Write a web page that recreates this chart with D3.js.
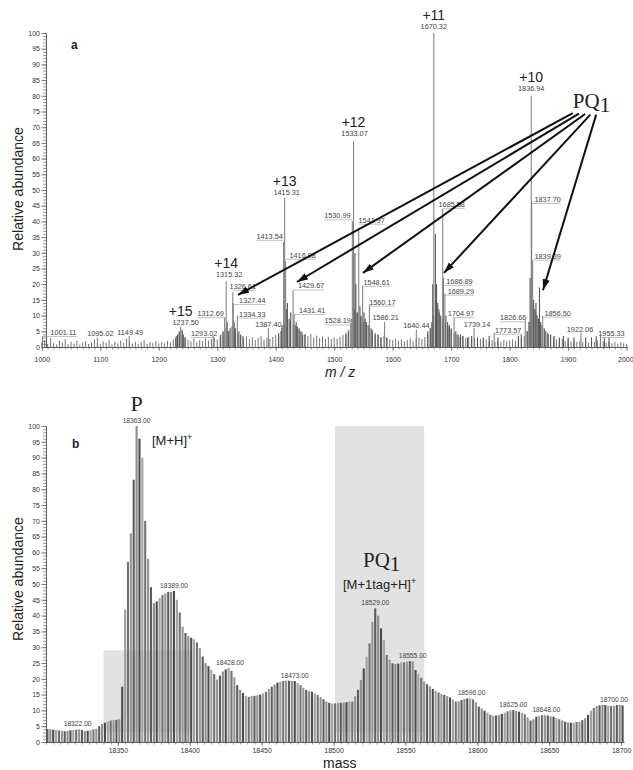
<!DOCTYPE html>
<html>
<head>
<meta charset="utf-8">
<script src="https://cdn.jsdelivr.net/npm/d3@7"></script>
<style>
body { margin: 0; background: #fff; }
text { font-family: "Liberation Sans", Arial, sans-serif; }
</style>
</head>
<body>
<svg id="chart" width="633" height="770"></svg>
<script>
// ---- panel a : m/z spectrum ----
// labelled peaks (m/z, relative abundance)
var peakMz = [1001.11, 1095.02, 1149.49, 1237.50, 1293.02, 1312.69, 1315.32, 1326.61, 1327.44, 1334.33,
              1387.40, 1413.54, 1415.31, 1416.98, 1429.67, 1431.41, 1528.19, 1530.99, 1533.07, 1541.97,
              1548.61, 1560.17, 1586.21, 1640.44, 1670.32, 1685.58, 1686.89, 1689.29, 1704.97, 1739.14,
              1773.57, 1826.66, 1836.94, 1837.70, 1839.39, 1856.50, 1922.06, 1955.33];
var peakInt = [3.5, 3, 3.5, 6.5, 3.5, 9.5, 21, 17.5, 14, 10,
               6, 33.5, 47.5, 27.5, 18, 10.5, 7.5, 40, 65.5, 38,
               19.5, 13.5, 8, 5.5, 100, 44, 22, 17, 9.5, 6,
               4.5, 8.5, 80, 46.5, 27.5, 10, 4.5, 3.5];

// unlabelled peaks inside the charge clusters
var extraMz = [1229, 1232, 1235, 1240, 1242, 1245,
               1306, 1310, 1317, 1319, 1322, 1329, 1331, 1337, 1340, 1344,
               1405, 1409, 1411, 1418, 1420, 1423, 1425.6, 1433, 1435, 1437, 1440, 1443, 1446, 1450,
               1520, 1524, 1535.5, 1537, 1539, 1544, 1546, 1551, 1553, 1555, 1558, 1563, 1565, 1570, 1575, 1580, 1590,
               1660, 1664, 1667, 1668.5, 1673, 1675, 1677, 1679, 1682, 1691, 1694, 1697, 1700, 1708, 1712, 1716, 1720, 1728, 1735, 1745, 1755, 1765, 1780,
               1815, 1820, 1830, 1833, 1835, 1841, 1843, 1845, 1847, 1849, 1851, 1853, 1859, 1862, 1866, 1870, 1876, 1885, 1892, 1900, 1910, 1930, 1940, 1948, 1962, 1970];
var extraInt = [3, 4, 5, 5.5, 4, 3,
                4, 5, 8, 5, 6, 8, 6, 5, 4, 3.5,
                4, 5, 7, 12, 14, 9, 11, 7, 8, 6.5, 6, 5, 4, 4,
                4, 5, 30, 20, 11, 13, 10, 11, 9, 8, 7, 6, 5, 4, 4, 3, 3,
                5, 6, 8, 20, 36, 20, 14, 12, 10, 10, 8, 7, 6, 5, 4, 4, 3.5, 3, 3.5, 3, 3, 3.5, 3,
                3.5, 4, 5, 8, 22, 15, 12, 14, 10, 9, 19, 8, 6, 5, 4, 4, 3.5, 3, 3.5, 3, 3, 3, 3, 3.5, 3, 3];

// baseline noise, one reading every 5 m/z from 1000 to 2000
var noiseStart = 1000, noiseStep = 5;
var noiseInt = [1.5, 2.2, 1.0, 2.8, 1.2, 0.8, 2.0, 1.4, 2.5, 0.9,
                1.7, 1.1, 2.1, 0.7, 1.5, 1.9, 1.0, 1.6, 2.4, 1.2,
                0.9, 1.8, 1.3, 2.2, 0.8, 1.6, 1.2, 2.0, 1.4, 2.6,
                1.9, 1.1, 1.7, 0.9, 1.5, 2.1, 1.0, 1.6, 1.3, 1.9,
                1.1, 1.6, 1.2, 2.0, 1.5, 2.4, 3.5, 4.5, 5.0, 3.2,
                2.3, 1.8, 2.6, 1.5, 2.2, 1.9, 2.8, 2.0, 2.5, 3.0,
                2.4, 3.3, 4.8, 6.0, 5.2, 6.5, 5.0, 4.2, 3.6, 2.8,
                3.4, 2.5, 3.1, 2.2, 2.9, 3.5, 2.4, 3.0, 2.6, 3.2,
                3.8, 4.5, 6.0, 7.5, 9.0, 8.0, 7.5, 6.5, 5.5, 4.8,
                4.0, 3.5, 4.2, 3.0, 3.6, 2.8, 3.4, 2.6, 3.2, 2.5,
                3.0, 2.7, 3.3, 3.8, 4.5, 5.5, 9.0, 12, 11, 9.5,
                8.0, 7.0, 6.0, 5.5, 4.5, 3.8, 3.2, 3.6, 2.8, 2.4,
                2.2, 2.6, 2.0, 2.4, 1.8, 2.2, 2.8, 2.0, 2.6, 3.0,
                2.5, 3.2, 4.0, 6.0, 10, 13, 11, 9.0, 8.0, 6.5,
                5.5, 4.5, 4.0, 3.2, 3.6, 2.8, 3.2, 2.5, 2.9, 2.2,
                2.6, 2.0, 2.4, 1.8, 2.2, 1.6, 2.0, 1.7, 2.3, 1.9,
                2.1, 2.4, 2.0, 2.6, 3.0, 3.6, 5.0, 8.0, 12, 11,
                9.0, 7.0, 5.5, 4.5, 3.8, 3.0, 2.5, 2.2, 2.6, 1.9,
                2.3, 1.7, 2.1, 1.6, 2.0, 1.5, 1.9, 1.4, 2.0, 1.6,
                2.2, 1.5, 1.8, 1.3, 1.7, 1.2, 1.6, 1.1, 1.5, 1.2,
                1.0];

var charges = ["+15", "+14", "+13", "+12", "+11", "+10"];
var chargeMz = [1237.50, 1315.32, 1415.31, 1533.07, 1670.32, 1836.94];

// arrows PQ1 -> tagged peaks : [from m/z, from abundance, to m/z, to abundance]
var arrows = [[1908, 74.5, 1335.5, 16.6],
              [1918.5, 74.3, 1436.3, 20.7],
              [1929, 74.2, 1549.2, 23.6],
              [1938, 74, 1687.7, 23.6],
              [1948, 74, 1857, 18.1]];

// ---- panel b : deconvoluted mass spectrum ----
// one reading every 2 Da from 18301 to 18701
var massStart = 18301, massStep = 2;
var massInt = [4.1, 4.0, 3.9, 3.8, 3.7, 3.6, 3.4, 3.5, 3.7, 3.8,
               3.9, 4.0, 3.8, 3.5, 3.6, 3.8, 4.0, 4.2, 5.0, 5.7,
               6.1, 6.5, 6.8, 6.9, 7.0, 7.2, 17.5, 42, 57, 66,
               83, 100, 96, 90, 70, 58, 49, 44, 44.5, 45.5,
               46.5, 47, 47.5, 47.5, 47.8, 45, 41, 36.5, 34.5, 33.5,
               33, 32.5, 31.5, 29.7, 27, 25, 24, 22.8, 21.5, 19.8,
               21, 22.3, 23, 23.4, 22.5, 20.5, 18, 16.5, 15.5, 14.6,
               14.3, 14.5, 14.6, 14.8, 15, 15.4, 15.9, 16.8, 17.5, 18.2,
               18.8, 19.1, 19.3, 19.4, 19.4, 19.3, 19.3, 18.7, 18, 17.2,
               16.5, 16.1, 15.9, 15.4, 14.9, 14.2, 13.5, 12.8, 12.4, 12.2,
               12.2, 12.3, 12.4, 12.5, 12.6, 12.8, 12.8, 14.5, 16.5, 19.6,
               23.3, 27, 31.2, 38, 42.3, 40, 36, 32.3, 27.5, 26,
               24.9, 24.7, 24.8, 25.2, 25.2, 25.4, 25.6, 25.5, 22.8, 21.5,
               20.3, 19.2, 18.3, 17.6, 16.8, 16.2, 15.7, 15.2, 14.9, 14.5,
               14.1, 13.4, 12.8, 12.9, 13.3, 13.6, 13.8, 13.8, 13.5, 12.6,
               11.2, 10.6, 9.9, 9.3, 8.6, 8.3, 8.4, 8.5, 8.9, 9.3,
               9.7, 10.0, 10.1, 9.8, 9.6, 9.2, 8.8, 7.8, 6.8, 7.2,
               8.0, 8.3, 8.5, 8.5, 8.4, 8.1, 8.0, 7.6, 7.2, 6.8,
               6.4, 6.2, 6.1, 6.1, 6.3, 6.4, 6.9, 7.5, 8.6, 9.9,
               10.8, 11.4, 11.6, 11.7, 11.7, 11.5, 11.4, 11.5, 11.7, 11.7,
               11.6];
var massLabels = [18322, 18363, 18389, 18428, 18473, 18529, 18555, 18596, 18625, 18648, 18700];
var massLabelInt = [4.0, 100, 47.8, 23.4, 19.4, 42.3, 25.5, 13.8, 10.1, 8.5, 11.7];
// shaded windows : [from mass, to mass, low, high]
var boxes = [[18340, 18401, 3, 29], [18501, 18563, 3, 100]];

// ---- layout ----
var labelDx = [21, 3, 1, 5, -9, -14, 3, 10, 19, 15,
               0, -14, 2, 17, 18, 18, -13, -15, 1, 13,
               14, 13, 1, 0, 0, 9, 16, 16, 7, 3,
               14, -12, 0, 16, 15, 15, -1, 11];
var labelDy = [-1, -2, -1, -2, 0, -1, -4, -3, 0, 1,
               -1, -3, -3, -3, -2, -1, 0, -3, -5, -5,
               -1, 0, -2, -2, -4, -2, 6, 0, -1, -1,
               0, 0, -5, 1, -2, 0, -1, 0];
var barShades = ["#5c5c5c", "#8e8e8e", "#4c4c4c", "#a2a2a2", "#727272", "#959595"];

var svg = d3.select("#chart");
var f2 = d3.format(".2f");

var xa = d3.scaleLinear().domain([1000, 2000]).range([41.8, 626.6]);
var ya = d3.scaleLinear().domain([0, 100]).range([347, 33]);
var xb = d3.scaleLinear().domain([18300, 18702]).range([46, 624]);
var yb = d3.scaleLinear().domain([0, 100]).range([742, 426]);

function styleAxis(g) {
  g.attr("font-family", "Liberation Sans, Arial, sans-serif").attr("font-size", 7);
  g.selectAll("path").attr("stroke", "#555").attr("stroke-width", 0.8);
  g.selectAll("line").attr("stroke", "#555").attr("stroke-width", 0.6);
  g.selectAll("text").attr("fill", "#333");
}
function minorAxis(g) {
  styleAxis(g);
  g.selectAll("text").remove();
}

function drawYAxis(y) {
  svg.append("g").attr("transform", "translate(46,0)")
     .call(d3.axisLeft(y).tickValues(d3.range(0, 101, 1)).tickSize(3).tickSizeOuter(0))
     .call(minorAxis);
  svg.append("g").attr("transform", "translate(46,0)")
     .call(d3.axisLeft(y).tickValues(d3.range(0, 101, 5)).tickSize(5).tickSizeOuter(0).tickPadding(1))
     .call(styleAxis);
}

// ================= panel a =================
noiseInt.forEach(function(v, i) {
  var m = noiseStart + i * noiseStep;
  svg.append("line").attr("x1", xa(m)).attr("x2", xa(m)).attr("y1", ya(0)).attr("y2", ya(v))
     .style("stroke", "#666").style("stroke-width", 0.9);
});
extraMz.forEach(function(m, i) {
  svg.append("line").attr("x1", xa(m)).attr("x2", xa(m)).attr("y1", ya(0)).attr("y2", ya(extraInt[i]))
     .style("stroke", "#555").style("stroke-width", 1.1);
});
peakMz.forEach(function(m, i) {
  svg.append("line").attr("x1", xa(m)).attr("x2", xa(m)).attr("y1", ya(0)).attr("y2", ya(peakInt[i]))
     .style("stroke", "#7a7a7a").style("stroke-width", 1);
});

// peak labels with leader lines
var labelBase = [];
peakMz.forEach(function(m, i) {
  var px = xa(m), cx = px + labelDx[i], by = ya(peakInt[i]) + labelDy[i];
  labelBase.push(by);
  if (Math.abs(labelDx[i]) > 6) {
    var x1 = labelDx[i] > 0 ? px : cx - 13;
    var x2 = labelDx[i] > 0 ? cx + 13 : px;
    svg.append("line").attr("x1", x1).attr("x2", x2).attr("y1", by + 1.5).attr("y2", by + 1.5)
       .style("stroke", "#999").style("stroke-width", 0.6);
  }
  svg.append("text").attr("x", cx).attr("y", by).text(f2(m))
     .style("font-size", "7.3px").style("fill", "#444").attr("text-anchor", "middle");
});

charges.forEach(function(c, i) {
  var k = peakMz.indexOf(chargeMz[i]);
  svg.append("text").attr("x", xa(chargeMz[i])).attr("y", labelBase[k] - 9).text(c)
     .style("font-size", "14px").style("fill", "#222").attr("text-anchor", "middle");
});

drawYAxis(ya);
svg.append("g").attr("transform", "translate(0," + ya(0) + ")")
   .call(d3.axisBottom(xa).tickValues(d3.range(1000, 2001, 10)).tickSize(2.5).tickSizeOuter(0))
   .call(minorAxis);
svg.append("g").attr("transform", "translate(0," + ya(0) + ")")
   .call(d3.axisBottom(xa).tickValues(d3.range(1000, 2001, 100)).tickSize(4).tickSizeOuter(0).tickPadding(6).tickFormat(d3.format("d")))
   .call(styleAxis)
   .selectAll("text").filter(function(d) { return d === 2000; }).attr("text-anchor", "end").attr("dx", 6.5);

// arrows
svg.append("defs").append("marker").attr("id", "head")
   .attr("markerUnits", "userSpaceOnUse").attr("markerWidth", 12).attr("markerHeight", 8)
   .attr("refX", 11).attr("refY", 3.5).attr("orient", "auto")
   .append("path").attr("d", "M0,0 L11,3.5 L0,7 Z").style("fill", "#111");
arrows.forEach(function(a) {
  svg.append("line").attr("x1", xa(a[0])).attr("y1", ya(a[1])).attr("x2", xa(a[2])).attr("y2", ya(a[3]))
     .style("stroke", "#111").style("stroke-width", 2).attr("marker-end", "url(#head)");
});

var pq = svg.append("text").attr("x", xa(1908)).attr("y", ya(76.1))
   .style("font-family", "Liberation Serif, Times New Roman, serif").style("font-size", "21px").style("fill", "#222");
pq.append("tspan").text("PQ");
pq.append("tspan").attr("dy", 4).text("1");

svg.append("text").attr("x", 71).attr("y", 49).text("a")
   .style("font-size", "12px").style("font-weight", "bold").style("fill", "#222");
svg.append("text").attr("transform", "translate(23,189) rotate(-90)").attr("text-anchor", "middle")
   .text("Relative abundance").style("font-size", "14px").style("fill", "#222");
svg.append("text").attr("x", 325).attr("y", 377).text("m / z")
   .style("font-size", "14px").style("font-style", "italic").style("fill", "#222");

// ================= panel b =================
boxes.forEach(function(b) {
  svg.append("rect").attr("x", xb(b[0])).attr("y", yb(b[3]))
     .attr("width", xb(b[1]) - xb(b[0])).attr("height", yb(b[2]) - yb(b[3]))
     .style("fill", "#e2e2e2");
});

massInt.forEach(function(v, i) {
  var m = massStart + i * massStep;
  svg.append("rect").attr("x", xb(m) - 1.05).attr("y", yb(v))
     .attr("width", 2.1).attr("height", yb(0) - yb(v))
     .style("fill", barShades[i % barShades.length]);
});

massLabels.forEach(function(m, i) {
  var x = xb(m), anchor = "middle";
  if (x + 14 > 628) { x = 628; anchor = "end"; }
  svg.append("text").attr("x", x).attr("y", yb(massLabelInt[i]) - 3).text(f2(m))
     .style("font-size", "6.7px").style("fill", "#444").attr("text-anchor", anchor);
});

drawYAxis(yb);
svg.append("g").attr("transform", "translate(0," + yb(0) + ")")
   .call(d3.axisBottom(xb).tickValues(d3.range(18300, 18701, 5)).tickSize(2.5).tickSizeOuter(0))
   .call(minorAxis);
svg.append("g").attr("transform", "translate(0," + yb(0) + ")")
   .call(d3.axisBottom(xb).tickValues(d3.range(18350, 18701, 50)).tickSize(4).tickSizeOuter(0).tickPadding(2).tickFormat(d3.format("d")))
   .call(styleAxis);

svg.append("text").attr("x", xb(18363)).attr("y", 411).attr("text-anchor", "middle").text("P")
   .style("font-family", "Liberation Serif, Times New Roman, serif").style("font-size", "22px").style("fill", "#222");
var mh = svg.append("text").attr("x", 152).attr("y", 445).style("font-size", "13px").style("fill", "#222");
mh.append("tspan").text("[M+H]");
mh.append("tspan").attr("dy", -5).style("font-size", "9px").text("+");

var pq2 = svg.append("text").attr("x", 363).attr("y", 567)
   .style("font-family", "Liberation Serif, Times New Roman, serif").style("font-size", "21px").style("fill", "#222");
pq2.append("tspan").text("PQ");
pq2.append("tspan").attr("dy", 4).text("1");
var mt = svg.append("text").attr("x", 343).attr("y", 589).style("font-size", "13px").style("fill", "#222");
mt.append("tspan").text("[M+1tag+H]");
mt.append("tspan").attr("dy", -5).style("font-size", "9px").text("+");

svg.append("text").attr("x", 72).attr("y", 448).text("b")
   .style("font-size", "12px").style("font-weight", "bold").style("fill", "#222");
svg.append("text").attr("transform", "translate(23,579) rotate(-90)").attr("text-anchor", "middle")
   .text("Relative abundance").style("font-size", "14px").style("fill", "#222");
svg.append("text").attr("x", 323).attr("y", 768).text("mass")
   .style("font-size", "14px").style("fill", "#222");
</script>
</body>
</html>
